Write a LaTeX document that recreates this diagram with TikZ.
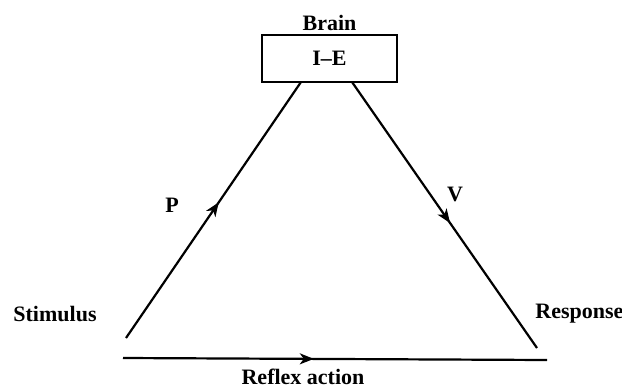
\documentclass[tikz,border=0pt]{standalone}
\usepackage{fontspec}
\setmainfont{Liberation Serif}
\usetikzlibrary{calc, decorations.markings, arrows.meta}

\tikzset{
    midarrow/.style={decoration={markings,
        mark=at position #1 with {\arrow{Stealth[length=14pt,width=11pt,inset=4pt]}}},
        postaction={decorate}},
    lbl/.style={font=\fontsize{22}{25}\selectfont\bfseries}
}

\begin{document}
\begin{tikzpicture}[x=1pt, y=-1pt, line width=2.2pt]
    \useasboundingbox (0,0) rectangle (622,389);

    \node[draw, line width=2pt, minimum width=135pt, minimum height=47pt,
        lbl] (ie) at (329.5,58.5) {I--E};
    \node[lbl, above, inner sep=2pt] (brain) at (ie.north) {Brain};

    \coordinate (top1) at (301,82);
    \coordinate (top2) at (352,82);
    \coordinate (stim) at (126,338);
    \coordinate (resp) at (537,348);
    \coordinate (rl) at (123,358);
    \coordinate (rr) at (547,360);

    \draw[midarrow=0.53] (stim) -- (top1);
    \draw[midarrow=0.53] (top2) -- (resp);
    \draw[midarrow=0.45] (rl) -- (rr);

    \node[lbl] (p) at (172,205) {P};
    \node[lbl] (v) at (455,194) {V};
    \node[lbl, anchor=west] (stimulus) at (9,314) {Stimulus};
    \node[lbl, anchor=west] (response) at (531,314) {Response};
    \node[lbl] (reflex) at (303,377) {Reflex action};
\end{tikzpicture}
\end{document}
